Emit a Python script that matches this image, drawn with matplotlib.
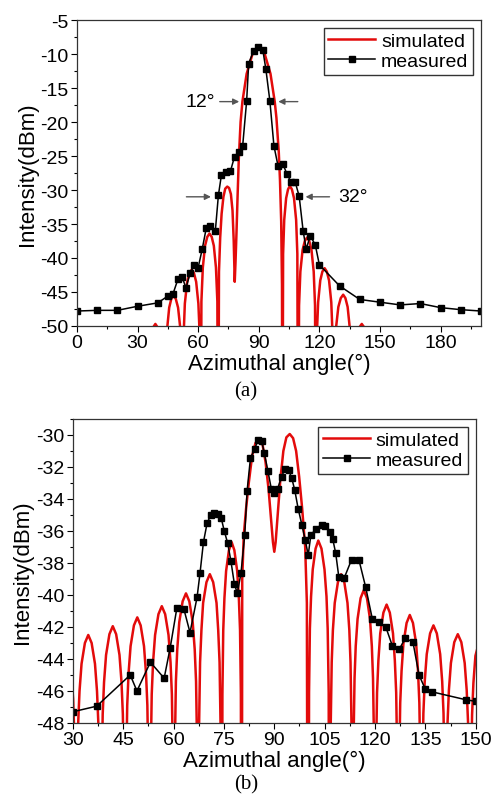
import matplotlib
matplotlib.use('Agg')
import matplotlib.pyplot as plt
from matplotlib.ticker import MultipleLocator

plt.rcParams['font.family'] = ['Liberation Sans', 'DejaVu Sans']
plt.rcParams['axes.unicode_minus'] = False

# (a) measured
meas_a_x = [0, 10, 20, 30, 40, 45, 47.5, 50, 52, 54, 56, 58, 60, 62, 64, 66, 68.5, 70, 71.5,
            74, 76, 78, 80, 82, 84, 85, 87.5, 89.5, 92, 93.5, 95.5, 97.5, 99.5, 102, 104,
            106, 108, 110, 112, 113.5, 115.5, 118, 120, 130, 140, 150, 160, 170, 180, 190, 200]
meas_a_y = [-47.8, -47.7, -47.7, -47.1, -46.6, -45.6, -45.3, -43.1, -42.8, -44.4, -42.2, -41.1,
            -41.4, -38.7, -35.6, -35.3, -36.0, -30.8, -27.8, -27.3, -27.2, -25.1, -24.4, -23.6,
            -16.9, -11.4, -9.5, -8.9, -9.4, -12.2, -16.9, -23.5, -26.4, -26.2, -27.7, -28.8,
            -28.8, -30.9, -36.1, -38.7, -36.7, -38.1, -41.0, -44.1, -46.1, -46.5, -46.9, -46.7,
            -47.3, -47.6, -47.8]

# (a) simulated
sim_a_x = [0, 34.5, 35.6, 36.65, 37.7, 38.8, 39.9, 41.1, 43.5,
           43.9, 44.6, 45.65, 46.7, 47.8, 48.9, 50.05, 51.2, 51.85, 52.3,
           52.75, 53.4, 54.55, 55.7, 56.8, 57.9, 59.0, 60.1, 60.8, 61.2,
           61.6, 62.3, 63.4, 64.5, 65.6, 66.7, 67.75, 68.8, 69.5, 69.9,
           70.3, 70.9, 71.6, 72.5, 73.4, 74.4, 75.3, 76.2, 77.0, 77.6, 78.1,
           78.5, 79.0, 79.5, 80.1, 81.0, 81.9, 84.0, 87.0, 89.9, 92.85, 95.8, 97.9,
           98.75, 99.9, 100.5, 101.1, 101.5, 101.7,
           102.05, 102.6, 103.55, 104.5, 105.4, 106.4, 107.45, 108.5, 109.1, 109.5,
           109.95, 110.6, 111.7, 112.8, 113.9, 115.0, 116.1, 117.2, 117.86, 118.3,
           118.73, 119.4, 120.45, 121.5, 122.6, 123.7, 124.8, 125.9, 126.56, 127.0,
           127.5, 128.2, 129.4, 130.6, 131.8, 132.9, 134.0, 135.1, 135.76, 136.2,
           138.6, 139.8, 141.0, 142.2, 143.4, 145.5, 200]
sim_a_y = [-80, -80, -54.7, -51.5, -50.2, -49.7, -50.2, -51.5, -80,
           -55.5, -50.5, -47.3, -46.0, -45.5, -46.0, -47.3, -50.5, -55.5, -80,
           -51.7, -46.7, -43.5, -42.2, -41.7, -42.2, -43.5, -46.7, -51.7, -80,
           -46.4, -41.4, -38.2, -36.9, -36.4, -36.9, -38.2, -41.4, -46.4, -80,
           -42, -37, -33.5, -31.0, -29.8, -29.5, -29.7, -30.6, -33.0, -37.5, -43.5,
           -40.5, -36, -31, -25.5, -20, -17, -12.9, -9.9, -9.0, -9.9, -12.9, -17,
           -19.4, -24.4, -28.5, -34.6, -44, -80,
           -39.4, -34.4, -31.2, -29.9, -29.4, -29.9, -31.2, -34.4, -39.4, -80,
           -47.0, -42.0, -38.8, -37.5, -37.0, -37.5, -38.8, -42.0, -47.0, -80,
           -51.5, -46.5, -43.3, -42.0, -41.5, -42.0, -43.3, -46.5, -51.5, -80,
           -55.4, -50.4, -47.2, -45.9, -45.4, -45.9, -47.2, -50.4, -55.4, -80,
           -51.5, -50.2, -49.7, -50.2, -51.5, -80, -80]

# (b) measured
meas_b_x = [30, 37.1, 47.1, 49.1, 53.1, 57.2, 59.0, 61.0, 63.1, 64.9, 67.0, 67.9, 68.9, 70.0,
            71.1, 72.0, 73.2, 74.2, 75.1, 76.1, 77.1, 78.1, 79.0, 80.1, 81.2, 81.9, 82.9,
            84.2, 85.2, 86.2, 87.0, 88.1, 89.1, 90.0, 91.0, 92.2, 93.2, 94.3, 95.2, 96.1,
            97.1, 98.2, 99.2, 100.1, 100.9, 102.5, 104.1, 105.2, 106.5, 107.4, 108.3,
            109.2, 110.8, 113.0, 115.2, 117.2, 119.2, 121.2, 123.2, 125.2, 127.2, 129.0,
            131.3, 133.1, 135.0, 136.9, 147.1, 150]
meas_b_y = [-47.3, -46.95, -45.0, -46.0, -44.2, -45.2, -43.3, -40.8, -40.9, -42.35, -40.15,
            -38.6, -36.7, -35.5, -35.0, -34.85, -34.95, -35.2, -36.0, -36.75, -37.9, -39.3,
            -39.9, -38.6, -36.25, -33.5, -31.45, -30.85, -30.3, -30.35, -31.1, -32.25,
            -33.35, -33.65, -33.35, -32.6, -32.1, -32.2, -32.7, -33.45, -34.6, -35.6,
            -36.55, -37.5, -36.25, -35.85, -35.6, -35.7, -36.05, -36.5, -37.4, -38.85,
            -38.95, -37.8, -37.8, -39.5, -41.5, -41.7, -42.0, -43.2, -43.4, -42.7, -42.95,
            -45.0, -45.9, -46.05, -46.55, -46.65]

# (b) simulated
sim_b_x = [27.5, 28.5, 29.5, 30.1, 30.4, 30.7, 31.0,
           31.3, 31.6, 32.0, 32.6, 33.6, 34.6, 35.6, 36.6, 37.2, 37.6, 37.9, 38.25,
           38.6, 38.9, 39.3, 39.9, 40.9, 41.9, 42.9, 43.9, 44.5, 44.9, 45.2, 45.5,
           45.9, 46.2, 46.6, 47.2, 48.2, 49.2, 50.2, 51.2, 51.8, 52.2, 52.5, 52.8,
           53.2, 53.5, 53.9, 54.5, 55.5, 56.5, 57.5, 58.5, 59.1, 59.5, 59.8, 60.1,
           60.4, 60.7, 61.1, 61.7, 62.7, 63.7, 64.7, 65.7, 66.3, 66.7, 67.0, 67.3,
           67.6, 67.9, 68.3, 68.8, 69.8, 70.8, 71.8, 72.8, 73.3, 73.7, 74.0, 74.3,
           74.55, 74.8, 75.15, 75.65, 76.5, 77.3, 78.1, 78.95, 79.45, 79.8, 80.05, 80.25,
           80.45, 80.9, 81.6, 82.4, 83.4, 84.4, 85.5, 86.5, 87.4, 88.3, 89.1, 89.6, 90.0,
           90.4, 91.0, 91.8, 92.7, 93.6, 94.6, 95.6, 96.5, 97.4, 98.3, 99.2, 99.7, 100.1,
           100.35, 100.6, 100.95, 101.45, 102.3, 103.1, 104.05, 104.95, 105.55, 105.9, 106.2, 106.5,
           106.8, 107.1, 107.45, 108.0, 108.95, 109.9, 110.85, 111.8, 112.35, 112.7, 113.0, 113.3,
           113.6, 113.9, 114.25, 114.8, 115.7, 116.65, 117.6, 118.5, 119.05, 119.4, 119.7, 120.0,
           120.3, 120.6, 121.0, 121.55, 122.5, 123.45, 124.4, 125.35, 125.9, 126.3, 126.6, 126.9,
           127.2, 127.5, 127.9, 128.45, 129.4, 130.35, 131.3, 132.25, 132.8, 133.2, 133.5, 133.8,
           134.1, 134.4, 134.8, 135.4, 136.4, 137.4, 138.4, 139.4, 140.0, 140.4, 140.7, 141.0,
           141.3, 141.6, 142.0, 142.6, 143.6, 144.65, 145.7, 146.7, 147.3, 147.7, 148.0, 148.3,
           148.6, 148.9, 149.3, 149.9, 150.9]
sim_b_y = [-43.0, -43.5, -44.8, -46.5, -48.5, -52.5, -80,
           -52.0, -48.0, -46.0, -44.3, -43.0, -42.5, -43.0, -44.3, -46.0, -48.0, -52.0, -80,
           -51.45, -47.45, -45.45, -43.75, -42.45, -41.95, -42.45, -43.75, -45.45, -47.45, -51.45, -80,
           -50.9, -46.9, -44.9, -43.2, -41.9, -41.4, -41.9, -43.2, -44.9, -46.9, -50.9, -80,
           -50.2, -46.2, -44.2, -42.5, -41.2, -40.7, -41.2, -42.5, -44.2, -46.2, -50.2, -80,
           -49.4, -45.4, -43.4, -41.7, -40.4, -39.9, -40.4, -41.7, -43.4, -45.4, -49.4, -80,
           -48.2, -44.2, -42.2, -40.5, -39.2, -38.7, -39.2, -40.5, -42.2, -44.2, -48.2, -80,
           -46.2, -42.2, -40.2, -38.5, -37.2, -36.7, -37.2, -38.5, -40.2, -42.2, -46.2, -80,
           -39, -36.3, -34.6, -33.0, -31.3, -30.5, -30.2, -30.6, -31.7, -33.4, -35.4, -36.7, -37.3,
           -36.7, -35.0, -32.8, -31.0, -30.15, -29.94, -30.2, -31.0, -32.6, -34.6, -37.0, -40.5, -80,
           -46.1, -42.1, -40.1, -38.4, -37.1, -36.6, -37.1, -38.4, -40.1, -42.1, -46.1, -80,
           -48.2, -44.2, -42.2, -40.5, -39.2, -38.7, -39.2, -40.5, -42.2, -44.2, -48.2, -80,
           -49.2, -45.2, -43.2, -41.5, -40.2, -39.7, -40.2, -41.5, -43.2, -45.2, -49.2, -80,
           -50.1, -46.1, -44.1, -42.4, -41.1, -40.6, -41.1, -42.4, -44.1, -46.1, -50.1, -80,
           -50.75, -46.75, -44.75, -43.05, -41.75, -41.25, -41.75, -43.05, -44.75, -46.75, -50.75, -80,
           -51.4, -47.4, -45.4, -43.7, -42.4, -41.9, -42.4, -43.7, -45.4, -47.4, -51.4, -80,
           -51.95, -47.95, -45.95, -44.25, -42.95, -42.45, -42.95, -44.25, -45.95, -47.95, -51.95, -80,
           -51.5, -47.5, -45.5, -43.8, -43.0]

red = '#e30b0b'
fig = plt.figure(figsize=(4.92, 8.03), dpi=100)
ax1 = fig.add_axes([0.1565, 0.5928, 0.821, 0.381])
ax2 = fig.add_axes([0.148, 0.0984, 0.819, 0.3786])

for ax in (ax1, ax2):
    ax.tick_params(which='both', direction='out', top=False, right=False, labelsize=14, pad=2)
    ax.tick_params(which='major', length=4, width=0.8)
    ax.tick_params(which='minor', length=2.5, width=0.8)
    for s in ax.spines.values():
        s.set_linewidth(0.9)
        s.set_color('#333333')

# panel (a)
ax1.plot(sim_a_x, sim_a_y, color=red, lw=1.8, label='simulated')
ax1.plot(meas_a_x, meas_a_y, color='black', lw=1.1, marker='s', ms=4, label='measured')
ax1.set_xlim(0, 200)
ax1.set_ylim(-50, -5)
ax1.set_xticks([0, 30, 60, 90, 120, 150, 180])
ax1.xaxis.set_minor_locator(MultipleLocator(15))
ax1.yaxis.set_major_locator(MultipleLocator(5))
ax1.yaxis.set_minor_locator(MultipleLocator(2.5))
ax1.set_xlabel('Azimuthal angle(°)', fontsize=16, labelpad=1)
ax1.set_ylabel('Intensity(dBm)', fontsize=16, labelpad=2)
ax1.legend(loc='upper right', fontsize=14, frameon=True, fancybox=False, edgecolor='black',
           borderpad=0.25, handlelength=2.4, handletextpad=0.3, labelspacing=0.1,
           borderaxespad=0.4)

arrow = dict(arrowstyle='-|>', color='#555555', lw=1.0, mutation_scale=9)
ax1.annotate('', xy=(81.7, -17), xytext=(69.3, -17), arrowprops=arrow)
ax1.annotate('', xy=(98.3, -17), xytext=(110.7, -17), arrowprops=arrow)
ax1.text(68.5, -17, '12°', fontsize=14, ha='right', va='center')
ax1.annotate('', xy=(67.7, -31), xytext=(52.8, -31), arrowprops=arrow)
ax1.annotate('', xy=(111.8, -31), xytext=(126.4, -31), arrowprops=arrow)
ax1.text(129.5, -31, '32°', fontsize=14, ha='left', va='center')

# panel (b)
ax2.plot(sim_b_x, sim_b_y, color=red, lw=1.8, label='simulated')
ax2.plot(meas_b_x, meas_b_y, color='black', lw=1.1, marker='s', ms=4, label='measured')
ax2.set_xlim(30, 150)
ax2.set_ylim(-48, -29)
ax2.xaxis.set_major_locator(MultipleLocator(15))
ax2.xaxis.set_minor_locator(MultipleLocator(7.5))
ax2.set_yticks([-48, -46, -44, -42, -40, -38, -36, -34, -32, -30])
ax2.yaxis.set_minor_locator(MultipleLocator(1))
ax2.set_xlabel('Azimuthal angle(°)', fontsize=16, labelpad=1)
ax2.set_ylabel('Intensity(dBm)', fontsize=16, labelpad=2)
ax2.legend(loc='upper right', fontsize=14, frameon=True, fancybox=False, edgecolor='black',
           borderpad=0.25, handlelength=2.4, handletextpad=0.3, labelspacing=0.1,
           borderaxespad=0.4)

fig.text(0.5, 0.512, '(a)', fontsize=15, ha='center', va='center', family='Liberation Serif')
fig.text(0.5, 0.022, '(b)', fontsize=15, ha='center', va='center', family='Liberation Serif')

fig.savefig('out.png', dpi=100)
